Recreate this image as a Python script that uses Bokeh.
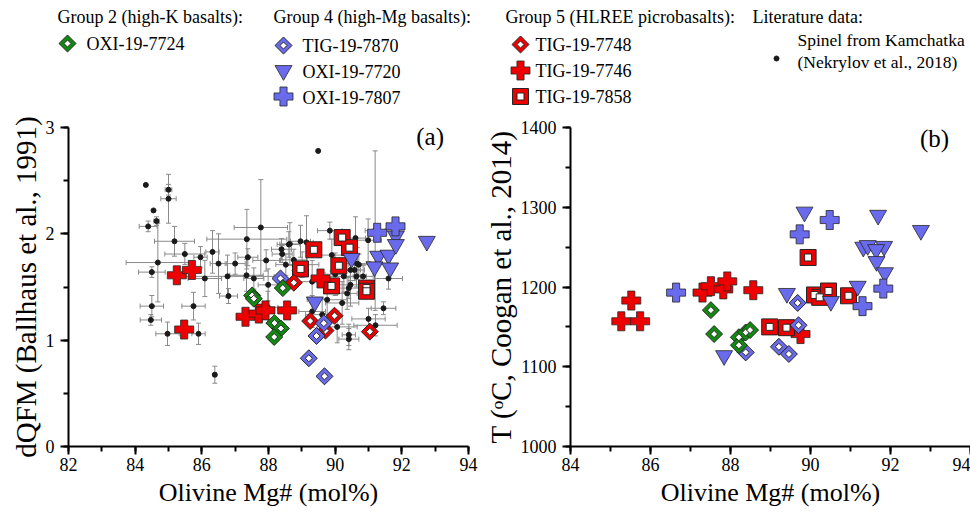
import numpy as np
from bokeh.plotting import figure
from bokeh.models import Range1d, SingleIntervalTicker, ColumnDataSource, Whisker, TeeHead, Label
from bokeh.layouts import column, row
from bokeh.embed import file_html
from bokeh.resources import INLINE
from bokeh.core.properties import value

FONT = "Liberation Serif"

# ---------------- data ----------------
# Literature data: spinel from Kamchatka (Nekrylov et al., 2018) - panel (a)
lit_mg = [84.32, 85.00, 85.00, 84.55, 84.64, 84.39, 85.18, 85.49, 85.96, 86.32,
          87.35, 87.77, 84.68, 84.50, 86.50, 87.00, 87.38, 87.93, 88.39, 88.41,
          88.61, 88.52, 86.77, 87.34, 86.09, 87.56, 86.80, 84.50, 84.47, 85.75,
          84.97, 85.90, 86.39, 87.99, 87.98, 88.76, 89.01, 89.31, 90.26, 90.46,
          90.36, 90.21, 89.76, 89.31, 89.61, 90.06, 90.41, 91.00, 91.45, 90.66,
          91.60, 89.84, 90.99, 91.20, 89.49, 88.64, 88.96, 89.14, 90.61, 90.46,
          90.58, 90.71, 90.64, 90.84, 90.41, 91.21, 90.41, 89.90, 90.00]
lit_dqfm = [2.46, 2.415, 2.33, 2.22, 2.12, 2.07, 1.93, 1.81, 1.78, 1.83,
            1.95, 2.06, 1.73, 1.64, 1.72, 1.72, 1.78, 1.75, 1.855, 1.81,
            1.90, 1.71, 1.60, 1.61, 1.58, 1.58, 1.415, 1.32, 1.19, 1.32,
            1.06, 1.06, 0.675, 1.52, 1.31, 1.755, 1.71, 1.55, 1.60, 1.52,
            1.44, 1.35, 1.38, 1.27, 1.24, 1.125, 1.01, 1.20, 1.30, 1.72,
            1.58, 2.03, 1.94, 2.03, 2.78, 1.905, 1.93, 1.92, 1.96, 1.66,
            1.66, 1.71, 1.60, 1.60, 1.49, 1.14, 1.05, 1.80, 1.62]
lit_mg_err = [0.0, 0.10, 0.23, 0.0, 0.08, 0.27, 0.60, 0.60, 0.20, 0.20,
              1.20, 0.80, 0.95, 0.40, 0.25, 0.30, 0.30, 0.40, 0.30, 0.30,
              0.35, 0.30, 1.40, 0.50, 0.50, 0.30, 0.27, 0.35, 0.32, 0.35,
              0.35, 0.20, 0.05, 0.30, 0.30, 0.40, 0.50, 0.40, 0.50, 0.40,
              0.30, 0.50, 0.60, 0.40, 0.50, 0.60, 0.30, 0.50, 0.37, 0.40,
              0.42, 0.37, 0.40, 0.30, 0.0, 0.30, 0.30, 0.20, 0.30, 0.30,
              0.30, 0.30, 0.30, 0.30, 0.30, 0.65, 0.20, 0.40, 0.30]
lit_dqfm_err = [0.0, 0.05, 0.23, 0.0, 0.04, 0.05, 0.14, 0.10, 0.10, 0.20,
                0.28, 0.45, 0.37, 0.05, 0.28, 0.10, 0.08, 0.10, 0.10, 0.08,
                0.12, 0.10, 0.20, 0.15, 0.17, 0.10, 0.07, 0.10, 0.05, 0.13,
                0.11, 0.10, 0.08, 0.15, 0.15, 0.10, 0.12, 0.20, 0.15, 0.20,
                0.15, 0.20, 0.20, 0.15, 0.15, 0.15, 0.10, 0.10, 0.06, 0.15,
                0.10, 0.08, 0.20, 0.75, 0.0, 0.20, 0.15, 0.25, 0.20, 0.10,
                0.10, 0.10, 0.10, 0.10, 0.10, 0.10, 0.10, 0.15, 0.20]

# Panel (a): olivine Mg# vs dQFM
a_7724_mg = [87.51, 87.56, 88.43, 88.18, 88.37, 88.17]
a_7724_dq = [1.42, 1.39, 1.49, 1.16, 1.11, 1.03]
a_7870_mg = [88.36, 89.66, 89.44, 89.21, 89.68]
a_7870_dq = [1.58, 1.16, 1.04, 0.83, 0.66]
a_7720_mg = [90.49, 91.29, 91.60, 91.18, 91.65, 91.82, 91.82, 92.75, 89.39]
a_7720_dq = [1.77, 1.79, 1.80, 1.69, 1.68, 1.98, 1.90, 1.93, 1.36]
a_7807_mg = [91.26, 91.81]
a_7807_dq = [2.01, 2.07]
a_7748_mg = [88.76, 89.25, 89.98, 89.71, 91.04]
a_7748_dq = [1.54, 1.18, 1.23, 1.09, 1.08]
a_7746_mg = [85.25, 85.70, 85.47, 87.31, 87.71, 87.91, 88.56, 89.56]
a_7746_dq = [1.61, 1.66, 1.10, 1.22, 1.25, 1.28, 1.28, 1.58]
a_7858_mg = [89.36, 90.21, 90.43, 88.96, 90.11, 89.89, 90.94, 90.94]
a_7858_dq = [1.85, 1.965, 1.87, 1.67, 1.70, 1.51, 1.49, 1.46]

# Panel (b): olivine Mg# vs T (Coogan et al., 2014)
b_7724_mg = [87.51, 87.59, 88.21, 88.38, 88.49, 88.21]
b_7724_t = [1171, 1141, 1137, 1143, 1146, 1127]
b_7870_mg = [88.38, 89.68, 89.70, 89.21, 89.46]
b_7870_t = [1118, 1180, 1152, 1125, 1116]
b_7720_mg = [87.84, 89.85, 91.69, 92.76, 91.32, 91.43, 91.84, 91.64, 91.65, 91.86, 91.18, 89.41, 90.51]
b_7720_t = [1114, 1294, 1290, 1271, 1250, 1252, 1251, 1247, 1232, 1218, 1201, 1192, 1182]
b_7807_mg = [86.64, 90.48, 89.73, 91.82, 91.30]
b_7807_t = [1193, 1284, 1266, 1198, 1176]
b_7746_mg = [85.52, 85.27, 85.74, 87.30, 87.51, 87.82, 87.92, 88.57, 89.75]
b_7746_t = [1183, 1157, 1157, 1193, 1201, 1197, 1207, 1196, 1141]
b_7858_mg = [89.94, 90.10, 90.23, 90.45, 90.95, 88.98, 89.40]
b_7858_t = [1237, 1190, 1187, 1195, 1189, 1150, 1149]

# Legend texts
group_titles = ["Group 2 (high-K basalts):", "Group 4 (high-Mg basalts):",
                "Group 5 (HLREE picrobasalts):", "Literature data:"]
g2_labels = ["OXI-19-7724"]
g4_labels = ["TIG-19-7870", "OXI-19-7720", "OXI-19-7807"]
g5_labels = ["TIG-19-7748", "TIG-19-7746", "TIG-19-7858"]
lit_labels = ["Spinel from Kamchatka", "(Nekrylov et al., 2018)"]

x_title = "Olivine Mg# (mol%)"
ya_title = "dQFM (Ballhaus et al., 1991)"
yb_title = "T (\u1d52C, Coogan et al., 2014)"

# ---------------- styles ----------------
GREEN = "#0f8c0f"
BLUE = "#6a6aec"
RED = "#ee0000"
EDGE = "#262626"
EBAR = "#8a8a8a"


def draw_diamond(p, x, y, color):
    p.scatter(x, y, marker="square", angle=np.pi / 4, size=12, fill_color=color,
              line_color=EDGE, line_width=1)
    p.scatter(x, y, marker="square", angle=np.pi / 4, size=5, fill_color="white",
              line_color=EDGE, line_width=1)


def draw_square(p, x, y, color):
    p.scatter(x, y, marker="square", size=16, fill_color=color, line_color=EDGE, line_width=1)
    p.scatter(x, y, marker="square", size=7, fill_color="white", line_color=EDGE, line_width=1)


def draw_triangle(p, x, y, color):
    p.scatter(x, y, marker="inverted_triangle", size=17, fill_color=color,
              line_color=EDGE, line_width=0.8)


def draw_plus(p, x, y, color):
    p.scatter(x, y, marker="plus", size=19, fill_color=color, line_color=EDGE, line_width=0.8)


def style_axes(p):
    for ax in (p.xaxis[0], p.yaxis[0]):
        ax.axis_line_width = 2
        ax.axis_line_color = "black"
        ax.major_tick_line_width = 2
        ax.minor_tick_line_width = 2
        ax.major_tick_in = 0
        ax.major_tick_out = 8
        ax.minor_tick_in = 0
        ax.minor_tick_out = 5
        ax.major_label_text_font = FONT
        ax.major_label_text_font_size = "18px"
        ax.major_label_text_color = "black"
        ax.axis_label_text_font = FONT
        ax.axis_label_text_font_style = "normal"
        ax.axis_label_text_color = "black"
    p.xaxis[0].axis_label_text_font_size = "26px"
    p.yaxis[0].axis_label_text_font_size = "29px"
    p.xaxis[0].major_label_standoff = 3
    p.xaxis[0].axis_label_standoff = 4
    p.yaxis[0].major_label_standoff = 6
    p.yaxis[0].axis_label_standoff = 1
    p.grid.visible = False
    p.outline_line_color = None


def whiskers(p, x, y, e, dim):
    x = np.asarray(x, float)
    y = np.asarray(y, float)
    e = np.asarray(e, float)
    m = e > 0
    if dim == "height":
        src = ColumnDataSource(dict(b=x[m], lo=(y - e)[m], hi=(y + e)[m]))
    else:
        src = ColumnDataSource(dict(b=y[m], lo=(x - e)[m], hi=(x + e)[m]))
    w = Whisker(source=src, base="b", lower="lo", upper="hi", dimension=dim,
                line_color=EBAR, line_width=1, level="underlay",
                upper_head=TeeHead(size=5, line_color=EBAR, line_width=1),
                lower_head=TeeHead(size=5, line_color=EBAR, line_width=1))
    p.add_layout(w)


# ---------------- legend strip (pixel coordinates of the page) ----------------
leg = figure(width=970, height=108, x_range=Range1d(0, 970), y_range=Range1d(108, 0),
             output_backend="svg", toolbar_location=None, min_border=0,
             x_axis_location=None, y_axis_location=None)
leg.grid.visible = False
leg.outline_line_color = None
TS = "18px"
leg.text(x=[57, 273, 505, 752], y=[16, 16, 16, 16], text=group_titles,
         text_font=value(FONT), text_font_size=TS, text_baseline="middle", text_align="left",
         text_color="black")
# group 2
draw_diamond(leg, [67], [43], GREEN)
leg.text(x=[86], y=[43], text=g2_labels, text_font=value(FONT), text_font_size=TS,
         text_baseline="middle", text_color="black")
# group 4
draw_diamond(leg, [283], [45], BLUE)
draw_triangle(leg, [283], [70], BLUE)
draw_plus(leg, [283], [96], BLUE)
leg.text(x=[302] * 3, y=[45, 71, 97], text=g4_labels, text_font=value(FONT), text_font_size=TS,
         text_baseline="middle", text_color="black")
# group 5
draw_diamond(leg, [520], [44], RED)
draw_plus(leg, [520], [70], RED)
draw_square(leg, [520], [96], RED)
leg.text(x=[535] * 3, y=[44, 70, 96], text=g5_labels, text_font=value(FONT), text_font_size=TS,
         text_baseline="middle", text_color="black")
# literature
leg.scatter([776], [58], size=5, fill_color="#1a1a1a", line_color="#1a1a1a")
leg.text(x=[797, 797], y=[39, 61], text=lit_labels, text_font=value(FONT), text_font_size="17.5px",
         text_baseline="middle", text_color="black")

# ---------------- panel (a) ----------------
pa = figure(width=481, height=404, x_range=Range1d(82, 94), y_range=Range1d(0, 3),
            output_backend="svg", toolbar_location=None,
            min_border_left=68, min_border_right=13, min_border_top=19, min_border_bottom=66)
pa.xaxis[0].ticker = SingleIntervalTicker(interval=2, num_minor_ticks=2)
pa.yaxis[0].ticker = SingleIntervalTicker(interval=1, num_minor_ticks=2)
pa.xaxis[0].axis_label = x_title
pa.yaxis[0].axis_label = ya_title
style_axes(pa)

whiskers(pa, lit_mg, lit_dqfm, lit_dqfm_err, "height")
whiskers(pa, lit_mg, lit_dqfm, lit_mg_err, "width")
pa.scatter(lit_mg, lit_dqfm, size=5, fill_color="#1a1a1a", line_color="#1a1a1a")

draw_square(pa, a_7858_mg, a_7858_dq, RED)
draw_triangle(pa, a_7720_mg, a_7720_dq, BLUE)
draw_plus(pa, a_7807_mg, a_7807_dq, BLUE)
draw_plus(pa, a_7746_mg, a_7746_dq, RED)
draw_diamond(pa, a_7748_mg, a_7748_dq, RED)
draw_diamond(pa, a_7870_mg, a_7870_dq, BLUE)
draw_diamond(pa, a_7724_mg, a_7724_dq, GREEN)

pa.add_layout(Label(x=92.85, y=2.92, text="(a)", text_font=FONT, text_font_size="25px",
                    text_align="center", text_baseline="middle", text_color="black"))

# ---------------- panel (b) ----------------
pb = figure(width=489, height=404, x_range=Range1d(84, 94), y_range=Range1d(1000, 1400),
            output_backend="svg", toolbar_location=None,
            min_border_left=88, min_border_right=0, min_border_top=19, min_border_bottom=66)
pb.xaxis[0].ticker = SingleIntervalTicker(interval=2, num_minor_ticks=2)
pb.yaxis[0].ticker = SingleIntervalTicker(interval=100, num_minor_ticks=2)
pb.xaxis[0].axis_label = x_title
pb.yaxis[0].axis_label = yb_title
style_axes(pb)

draw_plus(pb, b_7746_mg, b_7746_t, RED)
draw_square(pb, b_7858_mg, b_7858_t, RED)
draw_triangle(pb, b_7720_mg, b_7720_t, BLUE)
draw_plus(pb, b_7807_mg, b_7807_t, BLUE)
draw_diamond(pb, b_7870_mg, b_7870_t, BLUE)
draw_diamond(pb, b_7724_mg, b_7724_t, GREEN)

pb.add_layout(Label(x=93.1, y=1386, text="(b)", text_font=FONT, text_font_size="25px",
                    text_align="center", text_baseline="middle", text_color="black"))

layout = column(leg, row(pa, pb))
open("out.html", "w").write(file_html(layout, INLINE))
